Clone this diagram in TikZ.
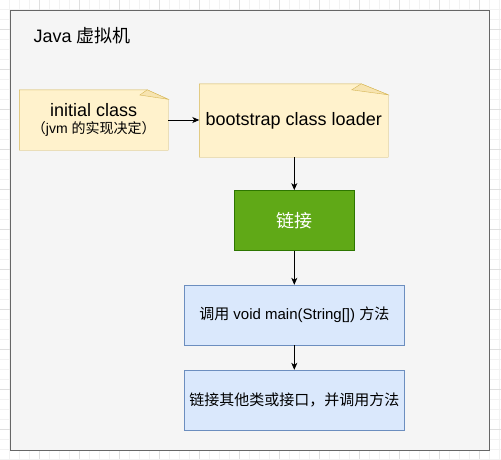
\documentclass[tikz,border=0pt]{standalone}
\usepackage{fontspec}
\setmainfont{Liberation Sans}
\newfontfamily\cjk{Noto Sans CJK SC}
\usetikzlibrary{arrows.meta}

\definecolor{notefill}{HTML}{FFF2CC}
\definecolor{noteline}{HTML}{D6B656}
\definecolor{flapfill}{HTML}{F7E4B0}
\definecolor{framefill}{HTML}{F5F5F5}
\definecolor{frameline}{HTML}{666666}
\definecolor{greenfill}{HTML}{60A917}
\definecolor{greenline}{HTML}{2D7600}
\definecolor{bluefill}{HTML}{DAE8FC}
\definecolor{blueline}{HTML}{6C8EBF}

\newcommand{\fs}[1]{\fontsize{#1}{#1}\selectfont}
% note outline with folded corner: node name, fold width, fold height
\newcommand{\foldnote}[3]{%
  \path (#1.north west) coordinate (nw) (#1.south east) coordinate (se);
  \draw [noteline, fill=notefill]
    (nw) -- ([xshift=-#2pt]se |- nw) -- ([yshift=-#3pt]se |- nw) -- (se) -- (nw |- se) -- cycle;
  \draw [noteline, fill=flapfill]
    ([xshift=-#2pt]se |- nw) -- ([xshift=-1.35*#2pt, yshift=-0.55*#3pt]se |- nw)
    -- ([yshift=-#3pt]se |- nw) -- cycle;
}

\begin{document}
\begin{tikzpicture}[x=1pt, y=-1pt,
  notebox/.style={minimum width=148.5pt, minimum height=60pt, inner sep=0pt, align=center},
  greenbox/.style={draw=greenline, fill=greenfill, text=white, minimum width=120pt,
    minimum height=60pt, inner sep=0pt, font=\cjk\fs{18}},
  bluebox/.style={draw=blueline, fill=bluefill, minimum width=220pt,
    minimum height=60pt, inner sep=0pt, font=\fs{15}},
  link/.style={-{Stealth[length=7pt, width=6pt, inset=2pt]}, line width=0.8pt}]
\useasboundingbox (0,0) rectangle (501,459);

% background grid
\foreach \i in {0,...,50} \draw [gray!10, line width=0.6pt] (\i*10-0.5,0) -- (\i*10-0.5,459);
\foreach \i in {0,...,46} \draw [gray!10, line width=0.6pt] (0,\i*10-0.5) -- (501,\i*10-0.5);
\foreach \i in {0,...,12} \draw [gray!25, line width=0.6pt] (\i*40-0.5,0) -- (\i*40-0.5,459);
\foreach \i in {0,...,10} \draw [gray!25, line width=0.6pt] (0,\i*40+29.5) -- (501,\i*40+29.5);

% container
\draw [frameline, fill=framefill, line width=0.8pt] (10,10) rectangle (489,450);
\node (title) [anchor=west, font=\fs{18}] at (30,36) {Java {\cjk 虚拟机}};

\node (init) [notebox] at (93.75,120) {};
\foldnote{init}{21}{9.5}
\node at (init) [align=center] {{\fs{18}initial class}\\[4pt]
  {\fs{14}{\cjk\kern-.45em（}jvm {\cjk 的实现决定）\kern-.45em}}};

\node (boot) [notebox, minimum width=188.5pt, minimum height=73pt] at (293.75,120.5) {};
\foldnote{boot}{27}{11}
\node at (boot) [font=\fs{18}] {bootstrap class loader};

\node (link) [greenbox] at (294.3,220.3) {链接};
\node (callmain) [bluebox] at (294.3,315) {{\cjk 调用} void main(String[]) {\cjk 方法}};
\node (other) [bluebox, font=\cjk\fs{15}] at (294.3,400) {链接其他类或接口，并调用方法};

\draw [link] (init.east) -- (init.east -| boot.west);
\draw [link] (boot.south -| link.north) -- (link.north);
\draw [link] (link.south) -- (callmain.north);
\draw [link] (callmain.south) -- (other.north);

\end{tikzpicture}
\end{document}
